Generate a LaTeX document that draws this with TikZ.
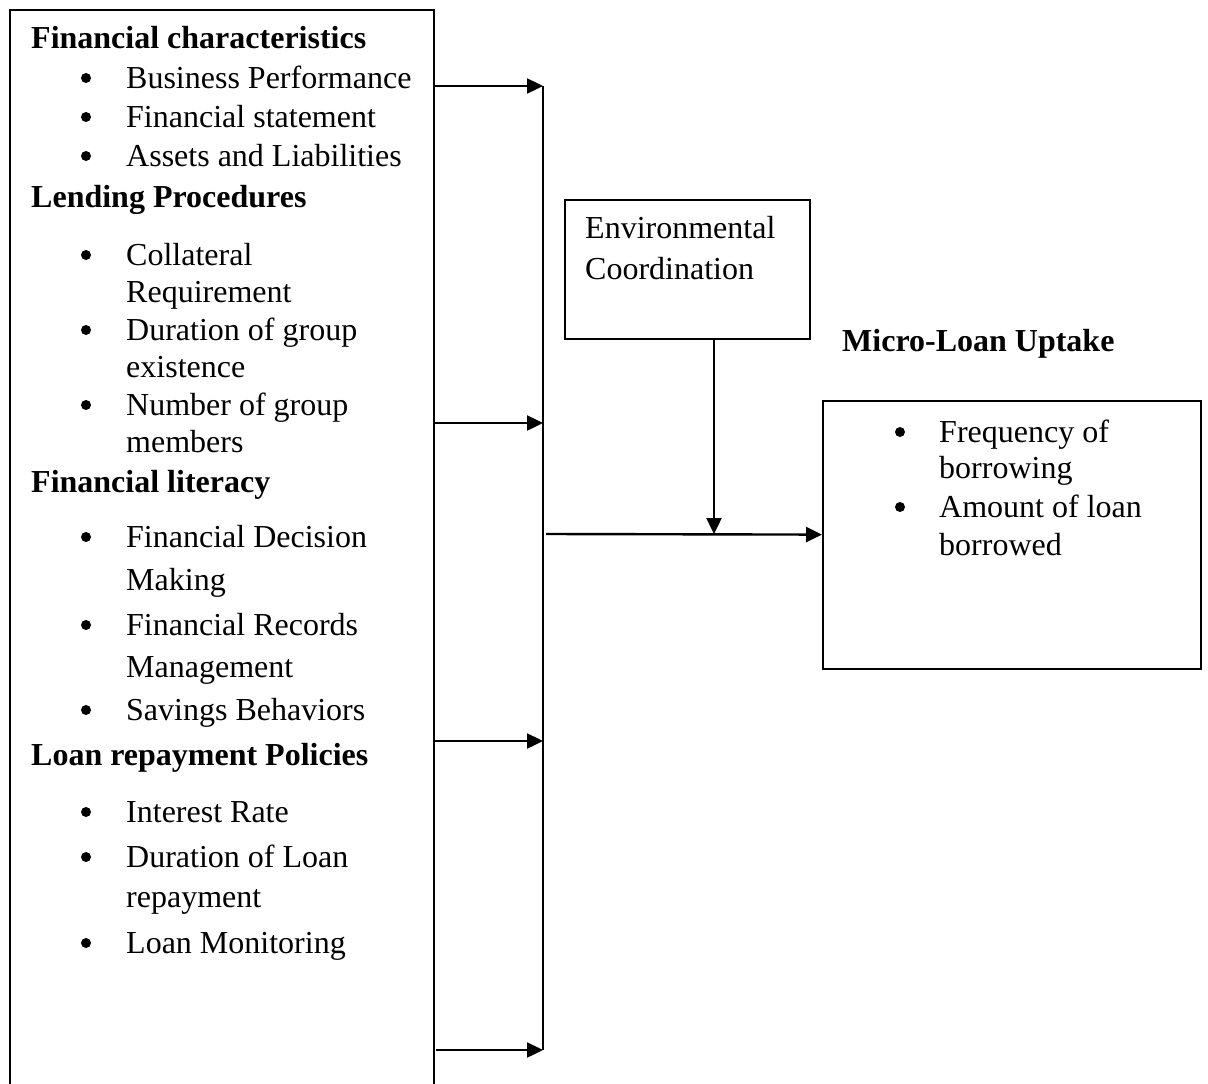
\documentclass[tikz,border=0pt]{standalone}
\usepackage{fontspec}
\setmainfont{Liberation Serif}
\usetikzlibrary{arrows.meta, positioning}

\tikzset{
  box/.style={draw, line width=2pt, inner sep=0pt, anchor=north west},
  head/.style={anchor=base west, inner sep=0pt, font=\bfseries},
  txt/.style={anchor=base west, inner sep=0pt},
  dot/.style={circle, fill, inner sep=0pt, minimum size=10pt},
  arr/.style={line width=2.4pt, -{Triangle[length=16pt,width=15pt]}},
  bar/.style={line width=2.4pt}
}

\begin{document}
\fontsize{32}{38}\selectfont
\begin{tikzpicture}[x=1pt,y=-1pt]
                    \clip (0,0) rectangle (1208,1084);

                    % boxes
                    \node[box, minimum width=424pt, minimum height=1100pt] (factors) at (9,9) {};
                    \node[box, minimum width=245pt, minimum height=139pt] (env) at (564,199) {};
                    \node[box, minimum width=378pt, minimum height=268pt] (uptake) at (822,400) {};

                    % left box text
                    \node[head] (fc) at (31,48) {Financial characteristics};
                    \node[dot] (d1) at (86,78) {};
                    \node[txt] (fc1) at (126,88) {Business Performance};
                    \node[dot] (d2) at (86,117) {};
                    \node[txt] (fc2) at (126,127) {Financial statement};
                    \node[dot] (d3) at (86,156) {};
                    \node[txt] (fc3) at (126,166) {Assets and Liabilities};

                    \node[head] (lp) at (31,207) {Lending Procedures};
                    \node[dot] (d4) at (86,255) {};
                    \node[txt] (lp1) at (126,265) {Collateral};
                    \node[txt] (lp1b) at (126,302) {Requirement};
                    \node[dot] (d5) at (86,330) {};
                    \node[txt] (lp2) at (126,340) {Duration of group};
                    \node[txt] (lp2b) at (126,377) {existence};
                    \node[dot] (d6) at (86,405) {};
                    \node[txt] (lp3) at (126,415) {Number of group};
                    \node[txt] (lp3b) at (126,452) {members};

                    \node[head] (fl) at (31,492) {Financial literacy};
                    \node[dot] (d7) at (86,537) {};
                    \node[txt] (fl1) at (126,547) {Financial Decision};
                    \node[txt] (fl1b) at (126,590) {Making};
                    \node[dot] (d8) at (86,625) {};
                    \node[txt] (fl2) at (126,635) {Financial Records};
                    \node[txt] (fl2b) at (126,677) {Management};
                    \node[dot] (d9) at (86,710) {};
                    \node[txt] (fl3) at (126,720) {Savings Behaviors};

                    \node[head] (lr) at (31,765) {Loan repayment Policies};
                    \node[dot] (d10) at (86,812) {};
                    \node[txt] (lr1) at (126,822) {Interest Rate};
                    \node[dot] (d11) at (86,857) {};
                    \node[txt] (lr2) at (126,867) {Duration of Loan};
                    \node[txt] (lr2b) at (126,907) {repayment};
                    \node[dot] (d12) at (86,943) {};
                    \node[txt] (lr3) at (126,953) {Loan Monitoring};

                    % right side text
                    \node[txt] (env1) at (585,238) {Environmental};
                    \node[txt] (env2) at (585,279) {Coordination};
                    \node[head] (mlu) at (842,351) {Micro-Loan Uptake};
                    \node[dot] (d13) at (900,432) {};
                    \node[txt] (mlu1) at (939,442) {Frequency of};
                    \node[txt] (mlu1b) at (939,478) {borrowing};
                    \node[dot] (d14) at (900,507) {};
                    \node[txt] (mlu2) at (939,517) {Amount of loan};
                    \node[txt] (mlu2b) at (939,555) {borrowed};

                    % connector points
                    \coordinate (s1) at (433,86);
                    \coordinate (s2) at (433,423);
                    \coordinate (s3) at (433,741);
                    \coordinate (s4) at (436,1050);
                    \coordinate (t1) at (543,86);
                    \coordinate (t2) at (543,423);
                    \coordinate (t3) at (543,741);
                    \coordinate (t4) at (543,1050);
                    \coordinate (m) at (546,534);
                    \coordinate (j) at (714,534);

                    \draw[arr] (s1) -- (t1);
                    \draw[arr] (s2) -- (t2);
                    \draw[arr] (s3) -- (t3);
                    \draw[arr] (s4) -- (t4);
                    \draw[bar] (t1) -- (t4);
                    \draw[arr] (m) -- (uptake);
                    \draw[arr] (j |- env.south) -- (j);
\end{tikzpicture}
\end{document}
